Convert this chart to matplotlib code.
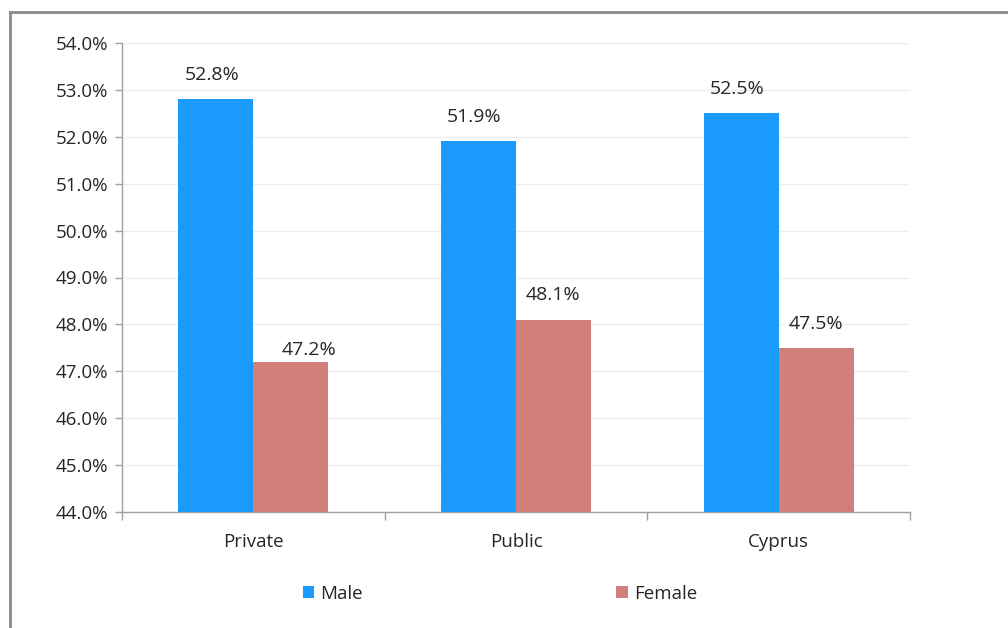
import matplotlib
matplotlib.use("Agg")
import matplotlib.pyplot as plt
from matplotlib.ticker import FuncFormatter, FixedLocator
from matplotlib.lines import Line2D
import numpy as np

categories = ["Private", "Public", "Cyprus"]
male = [52.8, 51.9, 52.5]
female = [47.2, 48.1, 47.5]
yticks = [44, 45, 46, 47, 48, 49, 50, 51, 52, 53, 54]

male_color = "#1B9CFC"
female_color = "#D17F7A"
font = ["Open Sans", "DejaVu Sans"]
plt.rcParams["font.family"] = font
txt = "#262626"

fig = plt.figure(figsize=(10.08, 6.28), dpi=100)
fig.patch.set_facecolor("white")
# outer frame (top and left visible)
fig.add_artist(Line2D([10/1008, 10/1008], [0, 1 - 12/628], color="#8A8A8A", lw=2, transform=fig.transFigure))
fig.add_artist(Line2D([10/1008, 1.0], [1 - 12/628, 1 - 12/628], color="#8A8A8A", lw=2, transform=fig.transFigure))

ax = fig.add_axes([122/1008, (628-512)/628, (910-122)/1008, (512-43)/628])
x = np.arange(len(categories))
w = 0.285
b1 = ax.bar(x - w/2, [m - 44 for m in male], w, bottom=44, color=male_color, label="Male", zorder=3)
b2 = ax.bar(x + w/2, [f - 44 for f in female], w, bottom=44, color=female_color, label="Female", zorder=3)

for i, (xi, v) in enumerate(zip(x - w/2, male)):
    ax.annotate(f"{v:.1f}%", (xi, v), xytext=(-3, 11), textcoords="offset points",
                ha="center", va="bottom", fontsize=14, color=txt)
for i, (xi, v) in enumerate(zip(x + w/2, female)):
    off = (13, 2) if i == 0 else (0, 11)
    ax.annotate(f"{v:.1f}%", (xi, v), xytext=off, textcoords="offset points",
                ha="center", va="bottom", fontsize=14, color=txt)

ax.set_xlim(-0.5, 2.5)
ax.set_ylim(44, 54)
ax.set_yticks(yticks)
ax.yaxis.set_major_formatter(FuncFormatter(lambda v, p: f"{v:.1f}%"))
ax.grid(axis="y", color="#EDEDED", lw=1, zorder=0)
ax.set_xticks(x)
ax.set_xticklabels(categories)
ax.tick_params(axis="x", length=0, pad=15, labelsize=13.5, labelcolor=txt)
ax.xaxis.set_minor_locator(FixedLocator([-0.5, 0.5, 1.5, 2.5]))
ax.tick_params(axis="x", which="minor", length=6, color="#A0A0A0", width=1)
ax.tick_params(axis="y", length=5, color="#A0A0A0", width=1, pad=5, labelsize=13.5, labelcolor=txt)
for s in ["top", "right"]:
    ax.spines[s].set_visible(False)
for s in ["left", "bottom"]:
    ax.spines[s].set_color("#A0A0A0")
    ax.spines[s].set_linewidth(1)

leg = fig.legend(handles=[b1, b2], labels=["Male", "Female"], loc="center",
                 bbox_to_anchor=(500/1008, 1 - 594/628), ncol=2, frameon=False,
                 fontsize=13.5, handlelength=0.6, handleheight=0.6, handletextpad=0.35,
                 columnspacing=13.5)
for t in leg.get_texts():
    t.set_color(txt)

fig.savefig("out.png", dpi=100, facecolor="white")
